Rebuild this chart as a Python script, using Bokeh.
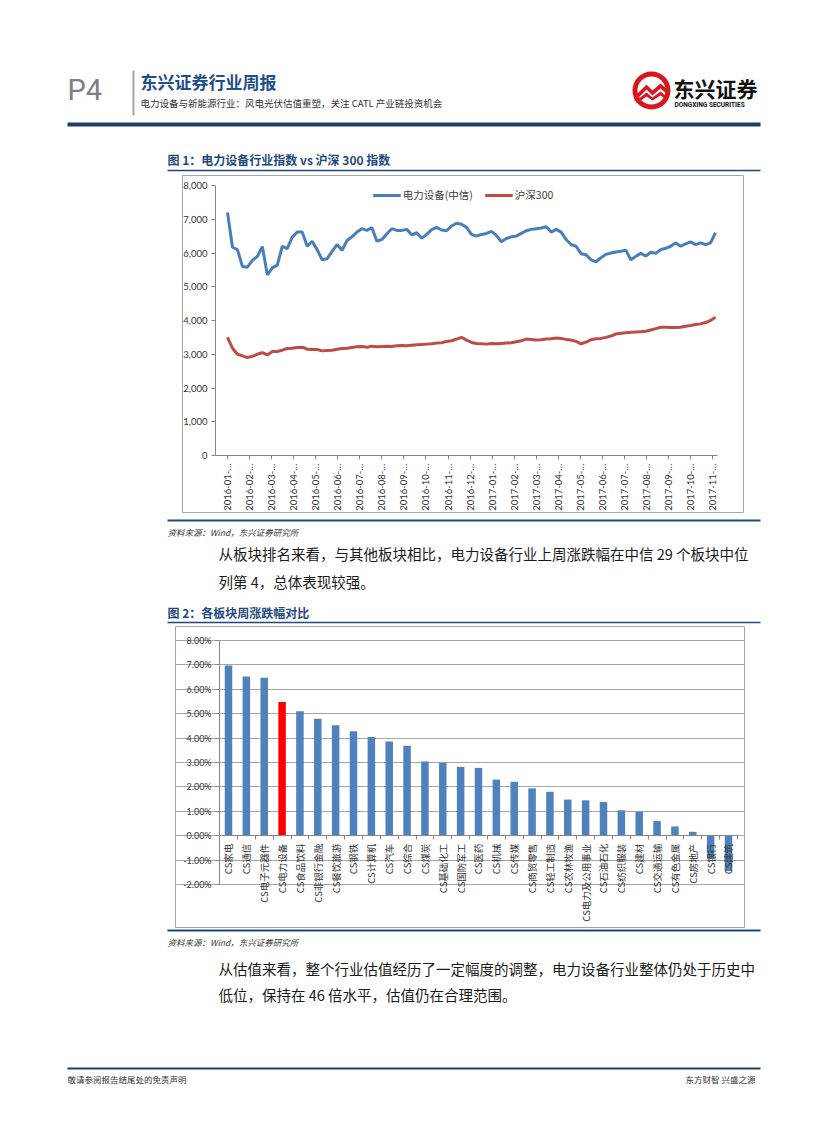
import numpy as np
import pandas as pd
from bokeh.plotting import figure
from bokeh.models import (Range1d, LinearAxis, FixedTicker, Legend, Spacer, Grid,
                          PrintfTickFormatter, NumeralTickFormatter)
from bokeh.layouts import column, row
from bokeh.core.properties import value
from bokeh.embed import file_html
from bokeh.resources import INLINE

# ---------------- data ----------------
series_start = "2016-01-04"          # weekly readings of the two indices
power_equipment_index = [
    7200, 6170, 6100, 5600, 5580, 5780, 5900, 6190, 5350, 5560,
    5640, 6200, 6130, 6470, 6620, 6620, 6200, 6350, 6100, 5800,
    5830, 6050, 6250, 6080, 6370, 6480, 6620, 6720, 6670, 6750,
    6350, 6400, 6570, 6720, 6670, 6670, 6700, 6540, 6600, 6440,
    6550, 6690, 6760, 6680, 6660, 6800, 6880, 6850, 6760, 6550,
    6500, 6550, 6580, 6640, 6520, 6330, 6430, 6480, 6500, 6580,
    6660, 6700, 6720, 6740, 6780, 6620, 6700, 6620, 6400, 6250,
    6200, 5980, 5950, 5800, 5740, 5860, 5960, 6000, 6030, 6050,
    6080, 5800, 5900, 5990, 5910, 6020, 5990, 6100, 6140, 6200,
    6300, 6200, 6270, 6330, 6250, 6300, 6250, 6300, 6600]
csi300_index = [
    3500, 3180, 3000, 2950, 2900, 2940, 3000, 3050, 2980, 3080,
    3080, 3120, 3170, 3180, 3200, 3210, 3150, 3140, 3140, 3100,
    3110, 3120, 3150, 3170, 3180, 3200, 3220, 3230, 3210, 3240,
    3220, 3230, 3240, 3230, 3250, 3260, 3250, 3270, 3280, 3290,
    3300, 3310, 3330, 3340, 3380, 3400, 3450, 3500, 3420, 3350,
    3320, 3310, 3300, 3320, 3310, 3320, 3330, 3340, 3370, 3400,
    3450, 3440, 3420, 3430, 3450, 3460, 3480, 3470, 3440, 3420,
    3380, 3310, 3360, 3430, 3460, 3470, 3500, 3540, 3600, 3620,
    3640, 3650, 3660, 3670, 3680, 3720, 3760, 3800, 3800, 3790,
    3790, 3800, 3830, 3850, 3880, 3900, 3940, 4000, 4100]
series_names = ["电力设备(中信)", "沪深300"]
month_tick_labels = [
    "2016-01-…", "2016-02-…", "2016-03-…", "2016-04-…", "2016-05-…", "2016-06-…",
    "2016-07-…", "2016-08-…", "2016-09-…", "2016-10-…", "2016-11-…", "2016-12-…",
    "2017-01-…", "2017-02-…", "2017-03-…", "2017-04-…", "2017-05-…", "2017-06-…",
    "2017-07-…", "2017-08-…", "2017-09-…", "2017-10-…", "2017-11-…"]
tick_spacing_days = 31
index_ticks = [0, 1000, 2000, 3000, 4000, 5000, 6000, 7000, 8000]

sectors = ["CS家电", "CS通信", "CS电子元器件", "CS电力设备", "CS食品饮料", "CS非银行金融",
           "CS餐饮旅游", "CS钢铁", "CS计算机", "CS汽车", "CS综合", "CS煤炭", "CS基础化工",
           "CS国防军工", "CS医药", "CS机械", "CS传媒", "CS商贸零售", "CS轻工制造",
           "CS农林牧渔", "CS电力及公用事业", "CS石油石化", "CS纺织服装", "CS建材",
           "CS交通运输", "CS有色金属", "CS房地产", "CS银行", "CS建筑"]
weekly_change_pct = [6.98, 6.52, 6.47, 5.48, 5.10, 4.79, 4.53, 4.28, 4.05, 3.86,
                     3.69, 3.04, 2.99, 2.82, 2.78, 2.30, 2.21, 1.94, 1.80, 1.48,
                     1.45, 1.38, 1.04, 0.99, 0.60, 0.38, 0.16, -0.95, -1.45]
pct_ticks = [-2, -1, 0, 1, 2, 3, 4, 5, 6, 7, 8]
highlight_sector = "CS电力设备"

# ---------------- styles ----------------
CJK = "Noto Sans CJK SC"
NUM = "Lato"
NAVY = "#1F3C64"
TITLE_BLUE = "#1F497D"
BLUE = "#4A7EBB"
RED = "#BE4B48"
BAR_BLUE = "#4F81BD"
BAR_RED = "#FF0000"
AXIS_GREY = "#868686"
BOX_GREY = "#A6A6A6"
MARGIN = 8
PAGE_W = 811


def page_fig(top, bottom):
    p = figure(width=PAGE_W, height=bottom - top, x_range=Range1d(MARGIN, MARGIN + PAGE_W),
               y_range=Range1d(bottom, top), x_axis_type=None, y_axis_type=None,
               toolbar_location=None, output_backend="svg", min_border=0)
    p.outline_line_color = None
    p.background_fill_color = "white"
    p.border_fill_color = "white"
    return p


def txt(p, x, y, s, size, color="#222222", font=CJK, style="normal", align="left"):
    p.text(x=[x], y=[y], text=[s], text_font=value(font), text_font_size=f"{size}px",
           text_color=color, text_font_style=style, text_align=align, text_baseline="middle")


def hline(p, x0, x1, y, color, width):
    p.line(x=[x0, x1], y=[y, y], line_color=color, line_width=width)


# ---------------- header (page y 8..175) ----------------
head = page_fig(8, 175)
txt(head, 67, 89, "P4", 29, color="#7F7F7F", font="Roboto")
head.line(x=[133, 133], y=[70, 115], line_color="#A6A6A6", line_width=2)
txt(head, 140, 81, "东兴证券行业周报", 17, color="#1F4E8C", style="bold")
txt(head, 140, 102, "电力设备与新能源行业：风电光伏估值重塑，关注 CATL 产业链投资机会", 9.5, color="#333333")
# logo
head.circle(x=[651], y=[90], radius=19, fill_color="#D7161E", line_color=None)
head.circle(x=[651], y=[90], radius=14, fill_color="white", line_color=None)
head.patch(x=[634, 646, 652, 660, 668, 668, 660, 652, 646, 634],
           y=[96, 84, 90, 83, 90, 95, 88, 95, 89, 101], fill_color="#D7161E", line_color=None)
head.patch(x=[636, 646, 652, 660, 666, 666, 660, 652, 646, 636],
           y=[100, 92, 97, 91, 96, 99, 95, 100, 96, 103], fill_color="#D7161E", line_color=None)
txt(head, 673, 87, "东兴证券", 21, color="#111111", style="bold")
txt(head, 674, 104, "DONGXING SECURITIES", 6.5, color="#111111", font="Roboto", style="bold")
hline(head, 67, 760, 124, NAVY, 4)
txt(head, 167, 159, "图 1：电力设备行业指数 vs 沪深 300 指数", 12, color=TITLE_BLUE, style="bold")
hline(head, 167, 760, 170, TITLE_BLUE, 1.5)

# ---------------- chart 1 ----------------
C1L, C1T, C1R, C1B = 182, 175, 744, 513
C1_AXIS_X, C1_DATA_X0, C1_DATA_X1, C1_AXIS_X1 = 215, 227, 715, 717
C1_TOP_PX, C1_ZERO_PX = 185, 455

dates = pd.date_range(series_start, periods=len(power_equipment_index), freq="7D")
t0 = dates[0].value / 1e6
t1 = dates[-1].value / 1e6
ms_per_px = (t1 - t0) / (C1_DATA_X1 - C1_DATA_X0)
u_per_px = index_ticks[-1] / (C1_ZERO_PX - C1_TOP_PX)

p1 = figure(width=C1R - C1L, height=C1B - C1T,
            x_range=Range1d(t0 - (C1_DATA_X0 - C1L) * ms_per_px, t1 + (C1R - C1_DATA_X1) * ms_per_px),
            y_range=Range1d(-(C1B - C1_ZERO_PX) * u_per_px, index_ticks[-1] + (C1_TOP_PX - C1T) * u_per_px),
            x_axis_type=None, y_axis_type=None, toolbar_location=None,
            output_backend="svg", min_border=0)
p1.outline_line_color = BOX_GREY
p1.outline_line_width = 1
p1.background_fill_color = "white"
p1.border_fill_color = "white"

r_blue = p1.line(dates, power_equipment_index, line_color=BLUE, line_width=3)
r_red = p1.line(dates, csi300_index, line_color=RED, line_width=3)

yax1 = LinearAxis(fixed_location=t0 - (C1_DATA_X0 - C1_AXIS_X) * ms_per_px,
                  bounds=(index_ticks[0], index_ticks[-1]),
                  ticker=FixedTicker(ticks=index_ticks),
                  formatter=NumeralTickFormatter(format="0,0"))
tick_ms = [t0 + k * tick_spacing_days * 86400000.0 for k in range(len(month_tick_labels))]
xax1 = LinearAxis(fixed_location=0,
                  bounds=(t0 - (C1_DATA_X0 - C1_AXIS_X) * ms_per_px, t0 + (C1_AXIS_X1 - C1_DATA_X0) * ms_per_px),
                  ticker=FixedTicker(ticks=tick_ms),
                  major_label_overrides={float(t): lab for t, lab in zip(tick_ms, month_tick_labels)},
                  major_label_orientation=np.pi / 2)
for ax in (yax1, xax1):
    ax.axis_line_color = AXIS_GREY
    ax.major_tick_line_color = AXIS_GREY
    ax.minor_tick_line_color = None
    ax.major_tick_out = 4
    ax.major_tick_in = 0
    ax.major_label_text_font = NUM
    ax.major_label_text_font_size = "9.5px"
    ax.major_label_text_color = "#333333"
    ax.major_label_standoff = 4
p1.add_layout(yax1, "left")
p1.add_layout(xax1, "below")

legend = Legend(items=[(series_names[0], [r_blue]), (series_names[1], [r_red])],
                location="top_center", orientation="horizontal",
                border_line_color=None, background_fill_alpha=0,
                label_text_font=CJK, label_text_font_size="10.5px", label_text_color="#404040",
                glyph_width=28, glyph_height=12, label_standoff=2, spacing=12,
                padding=2, margin=12)
p1.add_layout(legend)

# ---------------- middle text (page y 513..626) ----------------
mid = page_fig(513, 626)
hline(mid, 167, 760, 520, TITLE_BLUE, 2)
txt(mid, 167, 531, "资料来源：Wind，东兴证券研究所", 8.5, color="#333333", style="italic")
txt(mid, 218, 553, "从板块排名来看，与其他板块相比，电力设备行业上周涨跌幅在中信 29 个板块中位", 14.5, color="#1A1A1A")
txt(mid, 218, 581, "列第 4，总体表现较强。", 14.5, color="#1A1A1A")
txt(mid, 167, 612, "图 2：各板块周涨跌幅对比", 12, color=TITLE_BLUE, style="bold")
hline(mid, 167, 760, 622, TITLE_BLUE, 1.5)

# ---------------- chart 2 ----------------
C2L, C2T, C2R, C2B = 175, 626, 745, 928
C2_FIRST_X, C2_LAST_X = 228, 728
C2_TOP_PX, C2_BOTTOM_PX = 640, 884

n_cat = len(sectors)
x_idx = list(range(n_cat))
px_per_cat = (C2_LAST_X - C2_FIRST_X) / (n_cat - 1)
pct_per_px = (pct_ticks[-1] - pct_ticks[0]) / (C2_BOTTOM_PX - C2_TOP_PX)

p2 = figure(width=C2R - C2L, height=C2B - C2T,
            x_range=Range1d(-(C2_FIRST_X - C2L) / px_per_cat, (n_cat - 1) + (C2R - C2_LAST_X) / px_per_cat),
            y_range=Range1d(pct_ticks[0] - (C2B - C2_BOTTOM_PX) * pct_per_px,
                            pct_ticks[-1] + (C2_TOP_PX - C2T) * pct_per_px),
            x_axis_type=None, y_axis_type=None, toolbar_location=None,
            output_backend="svg", min_border=0)
p2.outline_line_color = BOX_GREY
p2.outline_line_width = 1
p2.background_fill_color = "white"
p2.border_fill_color = "white"

grid2 = Grid(dimension=1, ticker=FixedTicker(ticks=pct_ticks), bounds=(-0.5, n_cat - 0.5),
             grid_line_color=BOX_GREY, grid_line_width=1)
p2.add_layout(grid2)

bar_colors = [BAR_RED if s == highlight_sector else BAR_BLUE for s in sectors]
p2.vbar(x=x_idx, top=weekly_change_pct, bottom=0, width=0.42, fill_color=bar_colors, line_color=None)

yax2 = LinearAxis(fixed_location=-0.5, bounds=(pct_ticks[0], pct_ticks[-1]),
                  ticker=FixedTicker(ticks=pct_ticks),
                  formatter=PrintfTickFormatter(format="%.2f%%"))
yax2.major_tick_out = 4
yax2.major_tick_in = 0
yax2.major_label_text_font_size = "9px"
xax2 = LinearAxis(fixed_location=0, bounds=(-0.5, n_cat - 0.5),
                  ticker=FixedTicker(ticks=x_idx, minor_ticks=[i - 0.5 for i in range(n_cat + 1)]),
                  major_label_overrides={float(i): s for i, s in zip(x_idx, sectors)},
                  major_label_orientation=np.pi / 2)
xax2.major_tick_out = 0
xax2.major_tick_in = 0
xax2.minor_tick_out = 4
xax2.minor_tick_in = 0
xax2.major_label_text_font = CJK
xax2.major_label_text_font_size = "9.5px"
for ax in (yax2, xax2):
    ax.axis_line_color = AXIS_GREY
    ax.major_tick_line_color = AXIS_GREY
    ax.minor_tick_line_color = AXIS_GREY
    ax.major_label_text_color = "#333333"
    ax.major_label_standoff = 4
yax2.minor_tick_line_color = None
yax2.major_label_text_font = NUM
p2.add_layout(yax2, "left")
p2.add_layout(xax2, "below")

# ---------------- bottom text (page y 928..1106) ----------------
bot = page_fig(928, 1106)
hline(bot, 167, 760, 930, TITLE_BLUE, 2)
txt(bot, 167, 941, "资料来源：Wind，东兴证券研究所", 8.5, color="#333333", style="italic")
txt(bot, 218, 968, "从估值来看，整个行业估值经历了一定幅度的调整，电力设备行业整体仍处于历史中", 14.5, color="#1A1A1A")
txt(bot, 218, 994, "低位，保持在 46 倍水平，估值仍在合理范围。", 14.5, color="#1A1A1A")
hline(bot, 67, 760, 1068, NAVY, 2)
txt(bot, 67, 1078, "敬请参阅报告结尾处的免责声明", 8.5, color="#333333")
txt(bot, 755, 1078, "东方财智 兴盛之源", 8.5, color="#333333", align="right")

page = column(
    head,
    row(Spacer(width=C1L - MARGIN, height=C1B - C1T), p1, Spacer(width=PAGE_W - (C1R - MARGIN), height=C1B - C1T)),
    mid,
    row(Spacer(width=C2L - MARGIN, height=C2B - C2T), p2, Spacer(width=PAGE_W - (C2R - MARGIN), height=C2B - C2T)),
    bot,
)
# the page template has no body margin: add the 8px margin explicitly
layout = column(Spacer(width=PAGE_W + MARGIN, height=MARGIN),
                row(Spacer(width=MARGIN, height=10), page))

open("out.html", "w").write(file_html(layout, INLINE))
